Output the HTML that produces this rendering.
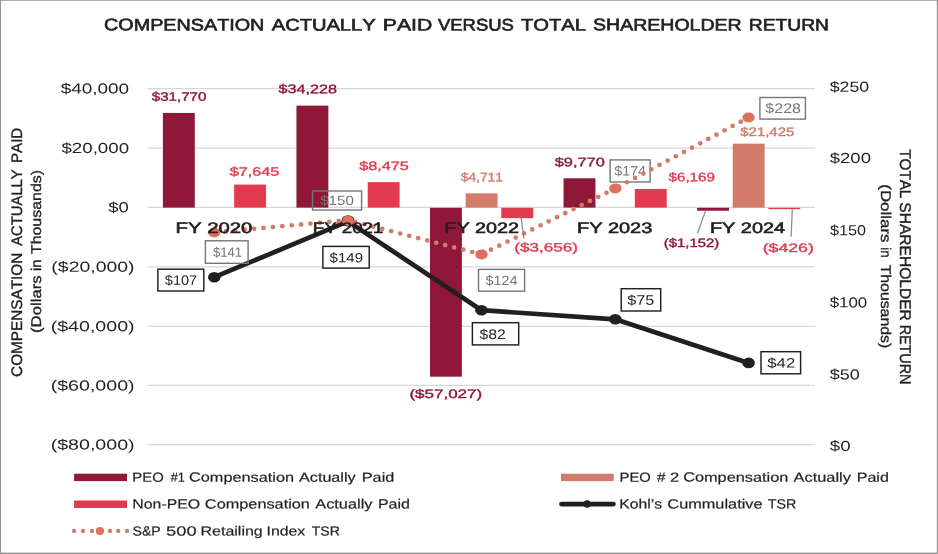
<!DOCTYPE html>
<html lang="en">
<head>
<meta charset="utf-8">
<title>Compensation Actually Paid Versus Total Shareholder Return</title>
<style>
html,body{margin:0;padding:0;background:#ffffff;}
body{width:938px;height:554px;overflow:hidden;font-family:"Liberation Sans",sans-serif;}
svg{display:block;will-change:transform;}
svg text{font-family:"Liberation Sans",sans-serif;font-kerning:none;text-rendering:geometricPrecision;}
</style>
</head>
<body>
<svg width="938" height="554" viewBox="0 0 938 554">
<rect x="0" y="0" width="938" height="554" fill="#ffffff"/>
<line x1="147.7" y1="88.60" x2="815.0" y2="88.60" stroke="#d8d8d8" stroke-width="1.25"/>
<line x1="147.7" y1="148.10" x2="815.0" y2="148.10" stroke="#d8d8d8" stroke-width="1.25"/>
<line x1="147.7" y1="207.30" x2="815.0" y2="207.30" stroke="#d8d8d8" stroke-width="1.25"/>
<line x1="147.7" y1="266.80" x2="815.0" y2="266.80" stroke="#d8d8d8" stroke-width="1.25"/>
<line x1="147.7" y1="326.30" x2="815.0" y2="326.30" stroke="#d8d8d8" stroke-width="1.25"/>
<line x1="147.7" y1="385.45" x2="815.0" y2="385.45" stroke="#d8d8d8" stroke-width="1.25"/>
<line x1="147.7" y1="444.60" x2="815.0" y2="444.60" stroke="#d8d8d8" stroke-width="1.25"/>
<rect x="162.90" y="112.94" width="31.9" height="94.66" fill="#8f1839"/>
<rect x="234.16" y="184.59" width="31.9" height="23.01" fill="#e23b50"/>
<rect x="296.45" y="105.64" width="31.9" height="101.96" fill="#8f1839"/>
<rect x="367.71" y="182.13" width="31.9" height="25.47" fill="#e23b50"/>
<rect x="430.00" y="207.80" width="31.9" height="168.87" fill="#8f1839"/>
<rect x="465.63" y="193.31" width="31.9" height="14.29" fill="#d27b6a"/>
<rect x="501.26" y="207.80" width="31.9" height="10.36" fill="#e23b50"/>
<rect x="563.55" y="178.28" width="31.9" height="29.32" fill="#8f1839"/>
<rect x="634.81" y="188.98" width="31.9" height="18.62" fill="#e23b50"/>
<rect x="697.10" y="207.80" width="31.9" height="2.92" fill="#8f1839"/>
<rect x="732.73" y="143.67" width="31.9" height="63.93" fill="#d27b6a"/>
<rect x="768.36" y="207.80" width="31.9" height="1.30" fill="#e23b50"/>
<polyline points="214.3,277.2 348.0,221.4 481.5,310.2 615.3,319.3 748.6,362.9" fill="none" stroke="#231f20" stroke-width="4.7" stroke-linejoin="round" stroke-linecap="round"/>
<ellipse cx="214.3" cy="277.2" rx="6.3" ry="5.3" fill="#231f20"/>
<ellipse cx="348.0" cy="220.9" rx="6.5" ry="5.7" fill="#231f20"/>
<ellipse cx="481.5" cy="310.2" rx="6.3" ry="5.3" fill="#231f20"/>
<ellipse cx="615.3" cy="319.3" rx="6.3" ry="5.3" fill="#231f20"/>
<ellipse cx="748.6" cy="362.9" rx="6.3" ry="5.3" fill="#231f20"/>
<rect x="205.40" y="240.80" width="42.70" height="22.50" fill="none" stroke="#767676" stroke-width="1.4"/>
<text x="212.96" y="256.70" font-size="13.37" font-weight="normal" fill="#767676" textLength="29.18" lengthAdjust="spacingAndGlyphs" transform="rotate(0.1 227.3 256.7)">$141</text>
<rect x="312.50" y="191.00" width="49.10" height="19.00" fill="none" stroke="#767676" stroke-width="1.4"/>
<text x="320.24" y="205.00" font-size="13.37" font-weight="normal" fill="#767676" textLength="33.55" lengthAdjust="spacingAndGlyphs" transform="rotate(0.1 336.8 205.0)">$150</text>
<rect x="478.50" y="269.40" width="46.10" height="21.80" fill="none" stroke="#767676" stroke-width="1.4"/>
<text x="485.55" y="285.00" font-size="13.37" font-weight="normal" fill="#767676" textLength="31.98" lengthAdjust="spacingAndGlyphs" transform="rotate(0.1 501.4 285.0)">$124</text>
<rect x="610.10" y="159.90" width="40.00" height="22.10" fill="none" stroke="#767676" stroke-width="1.4"/>
<text x="614.25" y="175.60" font-size="13.66" font-weight="normal" fill="#767676" textLength="31.77" lengthAdjust="spacingAndGlyphs" transform="rotate(0.1 630.0 175.6)">$174</text>
<rect x="759.90" y="97.50" width="45.50" height="21.60" fill="none" stroke="#767676" stroke-width="1.4"/>
<text x="765.33" y="112.90" font-size="13.81" font-weight="normal" fill="#767676" textLength="35.67" lengthAdjust="spacingAndGlyphs" transform="rotate(0.1 782.9 112.9)">$228</text>
<circle cx="338.70" cy="220.96" r="2.35" fill="#d37b69"/>
<circle cx="329.30" cy="221.83" r="2.35" fill="#d37b69"/>
<circle cx="319.90" cy="222.71" r="2.35" fill="#d37b69"/>
<circle cx="310.50" cy="223.58" r="2.35" fill="#d37b69"/>
<circle cx="301.10" cy="224.45" r="2.35" fill="#d37b69"/>
<circle cx="291.70" cy="225.32" r="2.35" fill="#d37b69"/>
<circle cx="282.30" cy="226.19" r="2.35" fill="#d37b69"/>
<circle cx="272.90" cy="227.07" r="2.35" fill="#d37b69"/>
<circle cx="263.50" cy="227.94" r="2.35" fill="#d37b69"/>
<circle cx="254.10" cy="228.81" r="2.35" fill="#d37b69"/>
<circle cx="244.70" cy="229.68" r="2.35" fill="#d37b69"/>
<circle cx="235.30" cy="230.55" r="2.35" fill="#d37b69"/>
<circle cx="225.90" cy="231.42" r="2.35" fill="#d37b69"/>
<circle cx="216.50" cy="232.30" r="2.35" fill="#d37b69"/>
<circle cx="472.20" cy="252.01" r="2.35" fill="#d37b69"/>
<circle cx="463.20" cy="249.70" r="2.35" fill="#d37b69"/>
<circle cx="454.20" cy="247.39" r="2.35" fill="#d37b69"/>
<circle cx="445.20" cy="245.07" r="2.35" fill="#d37b69"/>
<circle cx="436.20" cy="242.76" r="2.35" fill="#d37b69"/>
<circle cx="427.20" cy="240.45" r="2.35" fill="#d37b69"/>
<circle cx="418.20" cy="238.14" r="2.35" fill="#d37b69"/>
<circle cx="409.20" cy="235.82" r="2.35" fill="#d37b69"/>
<circle cx="400.20" cy="233.51" r="2.35" fill="#d37b69"/>
<circle cx="391.20" cy="231.20" r="2.35" fill="#d37b69"/>
<circle cx="382.20" cy="228.89" r="2.35" fill="#d37b69"/>
<circle cx="373.20" cy="226.57" r="2.35" fill="#d37b69"/>
<circle cx="364.20" cy="224.26" r="2.35" fill="#d37b69"/>
<circle cx="355.20" cy="221.95" r="2.35" fill="#d37b69"/>
<circle cx="491.00" cy="249.72" r="2.35" fill="#d37b69"/>
<circle cx="499.25" cy="245.66" r="2.35" fill="#d37b69"/>
<circle cx="507.50" cy="241.59" r="2.35" fill="#d37b69"/>
<circle cx="515.75" cy="237.53" r="2.35" fill="#d37b69"/>
<circle cx="524.00" cy="233.47" r="2.35" fill="#d37b69"/>
<circle cx="532.25" cy="229.40" r="2.35" fill="#d37b69"/>
<circle cx="540.50" cy="225.34" r="2.35" fill="#d37b69"/>
<circle cx="548.75" cy="221.28" r="2.35" fill="#d37b69"/>
<circle cx="557.00" cy="217.21" r="2.35" fill="#d37b69"/>
<circle cx="565.25" cy="213.15" r="2.35" fill="#d37b69"/>
<circle cx="573.50" cy="209.09" r="2.35" fill="#d37b69"/>
<circle cx="581.75" cy="205.02" r="2.35" fill="#d37b69"/>
<circle cx="590.00" cy="200.96" r="2.35" fill="#d37b69"/>
<circle cx="598.25" cy="196.90" r="2.35" fill="#d37b69"/>
<circle cx="606.50" cy="192.83" r="2.35" fill="#d37b69"/>
<circle cx="618.87" cy="186.60" r="2.35" fill="#d37b69"/>
<circle cx="627.00" cy="182.27" r="2.35" fill="#d37b69"/>
<circle cx="635.13" cy="177.94" r="2.35" fill="#d37b69"/>
<circle cx="643.26" cy="173.61" r="2.35" fill="#d37b69"/>
<circle cx="651.39" cy="169.28" r="2.35" fill="#d37b69"/>
<circle cx="659.52" cy="164.95" r="2.35" fill="#d37b69"/>
<circle cx="667.65" cy="160.62" r="2.35" fill="#d37b69"/>
<circle cx="675.78" cy="156.29" r="2.35" fill="#d37b69"/>
<circle cx="683.91" cy="151.96" r="2.35" fill="#d37b69"/>
<circle cx="692.04" cy="147.63" r="2.35" fill="#d37b69"/>
<circle cx="700.17" cy="143.30" r="2.35" fill="#d37b69"/>
<circle cx="708.30" cy="138.97" r="2.35" fill="#d37b69"/>
<circle cx="716.43" cy="134.63" r="2.35" fill="#d37b69"/>
<circle cx="724.56" cy="130.30" r="2.35" fill="#d37b69"/>
<circle cx="732.69" cy="125.97" r="2.35" fill="#d37b69"/>
<circle cx="740.82" cy="121.64" r="2.35" fill="#d37b69"/>
<ellipse cx="214.3" cy="232.5" rx="6.2" ry="5.0" fill="#de705e"/>
<ellipse cx="348.0" cy="220.9" rx="5.9" ry="5.1" fill="#de705e"/>
<ellipse cx="481.5" cy="254.4" rx="6.2" ry="5.0" fill="#de705e"/>
<ellipse cx="615.3" cy="188.5" rx="6.2" ry="5.0" fill="#de705e"/>
<ellipse cx="748.6" cy="117.5" rx="6.2" ry="5.0" fill="#de705e"/>
<line x1="521.2" y1="218.0" x2="523.9" y2="238.6" stroke="#8f8f8f" stroke-width="1.3"/>
<line x1="705.5" y1="210.9" x2="697.5" y2="233.2" stroke="#8f8f8f" stroke-width="1.3"/>
<line x1="792.3" y1="209.1" x2="791.1" y2="236.7" stroke="#8f8f8f" stroke-width="1.3"/>
<text x="175.63" y="233.00" font-size="15.12" font-weight="normal" fill="#231f20" textLength="76.76" lengthAdjust="spacingAndGlyphs" stroke="#231f20" stroke-width="0.6" transform="rotate(0.1 214.4 233.0)">FY 2020</text>
<text x="312.87" y="233.00" font-size="15.12" font-weight="normal" fill="#231f20" textLength="70.44" lengthAdjust="spacingAndGlyphs" stroke="#231f20" stroke-width="0.6" transform="rotate(0.1 348.4 233.0)">FY 2021</text>
<text x="444.38" y="233.00" font-size="15.12" font-weight="normal" fill="#231f20" textLength="74.51" lengthAdjust="spacingAndGlyphs" stroke="#231f20" stroke-width="0.6" transform="rotate(0.1 482.0 233.0)">FY 2022</text>
<text x="576.97" y="233.00" font-size="15.12" font-weight="normal" fill="#231f20" textLength="75.31" lengthAdjust="spacingAndGlyphs" stroke="#231f20" stroke-width="0.6" transform="rotate(0.1 615.0 233.0)">FY 2023</text>
<text x="709.97" y="233.00" font-size="15.12" font-weight="normal" fill="#231f20" textLength="75.11" lengthAdjust="spacingAndGlyphs" stroke="#231f20" stroke-width="0.6" transform="rotate(0.1 748.0 233.0)">FY 2024</text>
<rect x="157.90" y="269.20" width="45.90" height="21.80" fill="#fff" stroke="#231f20" stroke-width="1.45"/>
<text x="164.84" y="284.80" font-size="13.52" font-weight="normal" fill="#231f20" textLength="32.29" lengthAdjust="spacingAndGlyphs" transform="rotate(0.1 180.7 284.8)">$107</text>
<rect x="322.90" y="246.40" width="46.30" height="21.70" fill="#fff" stroke="#231f20" stroke-width="1.45"/>
<text x="329.64" y="262.20" font-size="13.37" font-weight="normal" fill="#231f20" textLength="33.37" lengthAdjust="spacingAndGlyphs" transform="rotate(0.1 346.1 262.2)">$149</text>
<rect x="472.40" y="322.70" width="46.30" height="22.20" fill="#fff" stroke="#231f20" stroke-width="1.45"/>
<text x="479.53" y="339.00" font-size="13.81" font-weight="normal" fill="#231f20" textLength="26.26" lengthAdjust="spacingAndGlyphs" transform="rotate(0.1 492.4 339.0)">$82</text>
<rect x="621.20" y="288.70" width="39.50" height="22.30" fill="#fff" stroke="#231f20" stroke-width="1.45"/>
<text x="627.23" y="304.80" font-size="13.81" font-weight="normal" fill="#231f20" textLength="27.06" lengthAdjust="spacingAndGlyphs" transform="rotate(0.1 640.5 304.8)">$75</text>
<rect x="761.00" y="351.70" width="39.60" height="22.10" fill="#fff" stroke="#231f20" stroke-width="1.45"/>
<text x="767.32" y="367.50" font-size="13.52" font-weight="normal" fill="#231f20" textLength="27.92" lengthAdjust="spacingAndGlyphs" transform="rotate(0.1 781.0 367.5)">$42</text>
<text x="151.83" y="100.76" font-size="12.24" font-weight="normal" fill="#8f1839" textLength="54.57" lengthAdjust="spacingAndGlyphs" stroke="#8f1839" stroke-width="0.38" transform="rotate(0.1 178.9 100.8)">$31,770</text>
<text x="229.72" y="175.76" font-size="12.24" font-weight="normal" fill="#e23b50" textLength="49.47" lengthAdjust="spacingAndGlyphs" stroke="#e23b50" stroke-width="0.38" transform="rotate(0.1 254.2 175.8)">$7,645</text>
<text x="278.52" y="93.16" font-size="12.38" font-weight="normal" fill="#8f1839" textLength="58.40" lengthAdjust="spacingAndGlyphs" stroke="#8f1839" stroke-width="0.38" transform="rotate(0.1 307.4 93.2)">$34,228</text>
<text x="359.22" y="170.06" font-size="12.24" font-weight="normal" fill="#e23b50" textLength="49.68" lengthAdjust="spacingAndGlyphs" stroke="#e23b50" stroke-width="0.38" transform="rotate(0.1 383.8 170.1)">$8,475</text>
<text x="460.84" y="181.26" font-size="12.24" font-weight="normal" fill="#d27b6a" textLength="41.94" lengthAdjust="spacingAndGlyphs" stroke="#d27b6a" stroke-width="0.38" transform="rotate(0.1 481.6 181.3)">$4,711</text>
<text x="514.23" y="251.56" font-size="12.24" font-weight="normal" fill="#e23b50" textLength="63.74" lengthAdjust="spacingAndGlyphs" stroke="#e23b50" stroke-width="0.38" transform="rotate(0.1 546.1 251.6)">($3,656)</text>
<text x="409.44" y="397.96" font-size="12.24" font-weight="normal" fill="#8f1839" textLength="72.73" lengthAdjust="spacingAndGlyphs" stroke="#8f1839" stroke-width="0.38" transform="rotate(0.1 445.8 398.0)">($57,027)</text>
<text x="554.81" y="166.26" font-size="12.24" font-weight="normal" fill="#8f1839" textLength="49.93" lengthAdjust="spacingAndGlyphs" stroke="#8f1839" stroke-width="0.38" transform="rotate(0.1 579.5 166.3)">$9,770</text>
<text x="668.53" y="181.26" font-size="12.24" font-weight="normal" fill="#e23b50" textLength="46.40" lengthAdjust="spacingAndGlyphs" stroke="#e23b50" stroke-width="0.38" transform="rotate(0.1 691.5 181.3)">$6,169</text>
<text x="740.33" y="135.96" font-size="12.24" font-weight="normal" fill="#d27b6a" textLength="53.91" lengthAdjust="spacingAndGlyphs" stroke="#d27b6a" stroke-width="0.38" transform="rotate(0.1 767.0 136.0)">$21,425</text>
<text x="663.87" y="246.96" font-size="12.24" font-weight="normal" fill="#8f1839" textLength="55.36" lengthAdjust="spacingAndGlyphs" stroke="#8f1839" stroke-width="0.38" transform="rotate(0.1 691.5 247.0)">($1,152)</text>
<text x="762.69" y="251.96" font-size="12.24" font-weight="normal" fill="#e23b50" textLength="51.11" lengthAdjust="spacingAndGlyphs" stroke="#e23b50" stroke-width="0.38" transform="rotate(0.1 788.2 252.0)">($426)</text>
<text x="60.70" y="93.60" font-size="14.54" font-weight="normal" fill="#231f20" textLength="68.44" lengthAdjust="spacingAndGlyphs" transform="rotate(0.1 94.7 93.6)">$40,000</text>
<text x="61.40" y="153.10" font-size="14.54" font-weight="normal" fill="#231f20" textLength="67.73" lengthAdjust="spacingAndGlyphs" transform="rotate(0.1 95.0 153.1)">$20,000</text>
<text x="108.30" y="212.30" font-size="14.54" font-weight="normal" fill="#231f20" textLength="20.52" lengthAdjust="spacingAndGlyphs" transform="rotate(0.1 118.3 212.3)">$0</text>
<text x="51.39" y="271.80" font-size="14.54" font-weight="normal" fill="#231f20" textLength="83.21" lengthAdjust="spacingAndGlyphs" transform="rotate(0.1 93.0 271.8)">($20,000)</text>
<text x="50.68" y="331.30" font-size="14.54" font-weight="normal" fill="#231f20" textLength="83.93" lengthAdjust="spacingAndGlyphs" transform="rotate(0.1 92.7 331.3)">($40,000)</text>
<text x="50.68" y="390.45" font-size="14.54" font-weight="normal" fill="#231f20" textLength="83.93" lengthAdjust="spacingAndGlyphs" transform="rotate(0.1 92.7 390.4)">($60,000)</text>
<text x="50.68" y="449.60" font-size="14.54" font-weight="normal" fill="#231f20" textLength="83.93" lengthAdjust="spacingAndGlyphs" transform="rotate(0.1 92.7 449.6)">($80,000)</text>
<text x="829.81" y="91.70" font-size="14.54" font-weight="normal" fill="#231f20" textLength="39.28" lengthAdjust="spacingAndGlyphs" transform="rotate(0.1 849.2 91.7)">$250</text>
<text x="829.80" y="163.00" font-size="14.54" font-weight="normal" fill="#231f20" textLength="41.12" lengthAdjust="spacingAndGlyphs" transform="rotate(0.1 850.1 163.0)">$200</text>
<text x="830.03" y="235.20" font-size="14.54" font-weight="normal" fill="#231f20" textLength="36.01" lengthAdjust="spacingAndGlyphs" transform="rotate(0.1 847.8 235.2)">$150</text>
<text x="829.72" y="307.40" font-size="14.54" font-weight="normal" fill="#231f20" textLength="37.54" lengthAdjust="spacingAndGlyphs" transform="rotate(0.1 848.2 307.4)">$100</text>
<text x="829.71" y="379.40" font-size="14.54" font-weight="normal" fill="#231f20" textLength="30.00" lengthAdjust="spacingAndGlyphs" transform="rotate(0.1 844.5 379.4)">$50</text>
<text x="829.80" y="450.90" font-size="14.54" font-weight="normal" fill="#231f20" textLength="20.73" lengthAdjust="spacingAndGlyphs" transform="rotate(0.1 839.9 450.9)">$0</text>
<text x="104.02" y="30.48" font-size="16.79" font-weight="normal" fill="#231f20" textLength="160.37" lengthAdjust="spacingAndGlyphs" stroke="#231f20" stroke-width="0.65" transform="rotate(0.1 183.9 30.5)">COMPENSATION</text>
<text x="271.79" y="30.48" font-size="16.79" font-weight="normal" fill="#231f20" textLength="103.83" lengthAdjust="spacingAndGlyphs" stroke="#231f20" stroke-width="0.65" transform="rotate(0.1 323.5 30.5)">ACTUALLY</text>
<text x="382.89" y="30.48" font-size="16.79" font-weight="normal" fill="#231f20" textLength="49.40" lengthAdjust="spacingAndGlyphs" stroke="#231f20" stroke-width="0.65" transform="rotate(0.1 408.0 30.5)">PAID</text>
<text x="438.04" y="30.48" font-size="16.79" font-weight="normal" fill="#231f20" textLength="75.78" lengthAdjust="spacingAndGlyphs" stroke="#231f20" stroke-width="0.65" transform="rotate(0.1 475.5 30.5)">VERSUS</text>
<text x="521.07" y="30.48" font-size="16.79" font-weight="normal" fill="#231f20" textLength="64.97" lengthAdjust="spacingAndGlyphs" stroke="#231f20" stroke-width="0.65" transform="rotate(0.1 553.5 30.5)">TOTAL</text>
<text x="593.04" y="30.48" font-size="16.79" font-weight="normal" fill="#231f20" textLength="148.64" lengthAdjust="spacingAndGlyphs" stroke="#231f20" stroke-width="0.65" transform="rotate(0.1 667.4 30.5)">SHAREHOLDER</text>
<text x="748.75" y="30.48" font-size="16.79" font-weight="normal" fill="#231f20" textLength="80.20" lengthAdjust="spacingAndGlyphs" stroke="#231f20" stroke-width="0.65" transform="rotate(0.1 788.9 30.5)">RETURN</text>
<text x="-0.58" y="-0.20" font-size="15.26" font-weight="normal" fill="#231f20" textLength="124.12" lengthAdjust="spacingAndGlyphs" stroke="#231f20" stroke-width="0.4" transform="translate(22.20,376.30) rotate(-90)">COMPENSATION</text>
<text x="0.17" y="-0.20" font-size="15.26" font-weight="normal" fill="#231f20" textLength="76.45" lengthAdjust="spacingAndGlyphs" stroke="#231f20" stroke-width="0.4" transform="translate(22.20,245.90) rotate(-90)">ACTUALLY</text>
<text x="-1.04" y="-0.20" font-size="15.26" font-weight="normal" fill="#231f20" textLength="35.16" lengthAdjust="spacingAndGlyphs" stroke="#231f20" stroke-width="0.4" transform="translate(22.20,161.90) rotate(-90)">PAID</text>
<text x="-0.86" y="-0.17" font-size="14.17" font-weight="normal" fill="#231f20" textLength="57.69" lengthAdjust="spacingAndGlyphs" stroke="#231f20" stroke-width="0.35" transform="translate(41.10,332.10) rotate(-90)">(Dollars</text>
<text x="-0.81" y="-0.17" font-size="14.17" font-weight="normal" fill="#231f20" textLength="11.50" lengthAdjust="spacingAndGlyphs" stroke="#231f20" stroke-width="0.35" transform="translate(41.10,270.30) rotate(-90)">in</text>
<text x="-0.18" y="-0.17" font-size="14.17" font-weight="normal" fill="#231f20" textLength="84.10" lengthAdjust="spacingAndGlyphs" stroke="#231f20" stroke-width="0.35" transform="translate(41.10,253.90) rotate(-90)">Thousands)</text>
<text x="-0.14" y="-0.20" font-size="15.55" font-weight="normal" fill="#231f20" textLength="49.05" lengthAdjust="spacingAndGlyphs" stroke="#231f20" stroke-width="0.4" transform="translate(899.60,149.40) rotate(90)">TOTAL</text>
<text x="-0.51" y="-0.20" font-size="15.55" font-weight="normal" fill="#231f20" textLength="118.53" lengthAdjust="spacingAndGlyphs" stroke="#231f20" stroke-width="0.4" transform="translate(899.60,202.80) rotate(90)">SHAREHOLDER</text>
<text x="-0.98" y="-0.20" font-size="15.55" font-weight="normal" fill="#231f20" textLength="59.85" lengthAdjust="spacingAndGlyphs" stroke="#231f20" stroke-width="0.4" transform="translate(899.60,325.60) rotate(90)">RETURN</text>
<text x="-0.87" y="-0.17" font-size="14.17" font-weight="normal" fill="#231f20" textLength="58.31" lengthAdjust="spacingAndGlyphs" stroke="#231f20" stroke-width="0.35" transform="translate(880.50,185.10) rotate(90)">(Dollars</text>
<text x="-0.72" y="-0.17" font-size="14.17" font-weight="normal" fill="#231f20" textLength="10.41" lengthAdjust="spacingAndGlyphs" stroke="#231f20" stroke-width="0.35" transform="translate(880.50,247.90) rotate(90)">in</text>
<text x="-0.18" y="-0.17" font-size="14.17" font-weight="normal" fill="#231f20" textLength="83.59" lengthAdjust="spacingAndGlyphs" stroke="#231f20" stroke-width="0.35" transform="translate(880.50,264.80) rotate(90)">Thousands)</text>
<rect x="74.1" y="473.7" width="52.9" height="7.4" fill="#8f1839"/>
<rect x="74.1" y="500.5" width="52.9" height="7.5" fill="#e23b50"/>
<rect x="561.0" y="473.7" width="52.7" height="7.4" fill="#d27b6a"/>
<line x1="561.4" y1="504.1" x2="613.5" y2="504.1" stroke="#231f20" stroke-width="4.6" stroke-linecap="round"/>
<ellipse cx="587.2" cy="504.0" rx="3.7" ry="3.8" fill="#231f20"/>
<circle cx="74.1" cy="531.0" r="2.15" fill="#d37b69"/>
<circle cx="83.0" cy="531.0" r="2.15" fill="#d37b69"/>
<circle cx="92.0" cy="531.0" r="2.15" fill="#d37b69"/>
<circle cx="109.9" cy="531.0" r="2.15" fill="#d37b69"/>
<circle cx="118.3" cy="531.0" r="2.15" fill="#d37b69"/>
<circle cx="127.0" cy="531.0" r="2.15" fill="#d37b69"/>
<ellipse cx="99.9" cy="531.0" rx="4.1" ry="3.9" fill="#de705e"/>
<text x="132.38" y="481.70" font-size="13.23" font-weight="normal" fill="#231f20" textLength="31.33" lengthAdjust="spacingAndGlyphs" stroke="#231f20" stroke-width="0.2" transform="rotate(0.1 148.3 481.7)">PEO</text>
<text x="170.64" y="481.70" font-size="13.23" font-weight="normal" fill="#231f20" textLength="14.18" lengthAdjust="spacingAndGlyphs" stroke="#231f20" stroke-width="0.2" transform="rotate(0.1 177.4 481.7)">#1</text>
<text x="189.07" y="481.70" font-size="13.23" font-weight="normal" fill="#231f20" textLength="104.98" lengthAdjust="spacingAndGlyphs" stroke="#231f20" stroke-width="0.2" transform="rotate(0.1 241.4 481.7)">Compensation</text>
<text x="299.07" y="481.70" font-size="13.23" font-weight="normal" fill="#231f20" textLength="56.56" lengthAdjust="spacingAndGlyphs" stroke="#231f20" stroke-width="0.2" transform="rotate(0.1 327.4 481.7)">Actually</text>
<text x="361.76" y="481.70" font-size="13.23" font-weight="normal" fill="#231f20" textLength="32.58" lengthAdjust="spacingAndGlyphs" stroke="#231f20" stroke-width="0.2" transform="rotate(0.1 378.2 481.7)">Paid</text>
<text x="132.30" y="508.50" font-size="13.37" font-weight="normal" fill="#231f20" textLength="67.86" lengthAdjust="spacingAndGlyphs" stroke="#231f20" stroke-width="0.2" transform="rotate(0.1 166.5 508.5)">Non-PEO</text>
<text x="204.87" y="508.50" font-size="13.37" font-weight="normal" fill="#231f20" textLength="105.09" lengthAdjust="spacingAndGlyphs" stroke="#231f20" stroke-width="0.2" transform="rotate(0.1 257.3 508.5)">Compensation</text>
<text x="315.27" y="508.50" font-size="13.37" font-weight="normal" fill="#231f20" textLength="57.16" lengthAdjust="spacingAndGlyphs" stroke="#231f20" stroke-width="0.2" transform="rotate(0.1 343.9 508.5)">Actually</text>
<text x="377.99" y="508.50" font-size="13.37" font-weight="normal" fill="#231f20" textLength="31.94" lengthAdjust="spacingAndGlyphs" stroke="#231f20" stroke-width="0.2" transform="rotate(0.1 394.1 508.5)">Paid</text>
<text x="132.56" y="535.50" font-size="13.23" font-weight="normal" fill="#231f20" textLength="28.18" lengthAdjust="spacingAndGlyphs" stroke="#231f20" stroke-width="0.2" transform="rotate(0.1 146.6 535.5)">S&amp;P</text>
<text x="166.06" y="535.50" font-size="13.23" font-weight="normal" fill="#231f20" textLength="30.65" lengthAdjust="spacingAndGlyphs" stroke="#231f20" stroke-width="0.2" transform="rotate(0.1 181.4 535.5)">500</text>
<text x="200.59" y="535.50" font-size="13.23" font-weight="normal" fill="#231f20" textLength="62.14" lengthAdjust="spacingAndGlyphs" stroke="#231f20" stroke-width="0.2" transform="rotate(0.1 231.8 535.5)">Retailing</text>
<text x="266.64" y="535.50" font-size="13.23" font-weight="normal" fill="#231f20" textLength="38.63" lengthAdjust="spacingAndGlyphs" stroke="#231f20" stroke-width="0.2" transform="rotate(0.1 286.6 535.5)">Index</text>
<text x="311.78" y="535.50" font-size="13.23" font-weight="normal" fill="#231f20" textLength="28.07" lengthAdjust="spacingAndGlyphs" stroke="#231f20" stroke-width="0.2" transform="rotate(0.1 325.6 535.5)">TSR</text>
<text x="619.59" y="481.70" font-size="13.23" font-weight="normal" fill="#231f20" textLength="31.22" lengthAdjust="spacingAndGlyphs" stroke="#231f20" stroke-width="0.2" transform="rotate(0.1 635.5 481.7)">PEO</text>
<text x="657.03" y="481.70" font-size="13.23" font-weight="normal" fill="#231f20" textLength="8.64" lengthAdjust="spacingAndGlyphs" stroke="#231f20" stroke-width="0.2" transform="rotate(0.1 661.4 481.7)">#</text>
<text x="670.07" y="481.70" font-size="13.23" font-weight="normal" fill="#231f20" textLength="9.16" lengthAdjust="spacingAndGlyphs" stroke="#231f20" stroke-width="0.2" transform="rotate(0.1 674.6 481.7)">2</text>
<text x="683.17" y="481.70" font-size="13.23" font-weight="normal" fill="#231f20" textLength="105.19" lengthAdjust="spacingAndGlyphs" stroke="#231f20" stroke-width="0.2" transform="rotate(0.1 735.6 481.7)">Compensation</text>
<text x="793.57" y="481.70" font-size="13.23" font-weight="normal" fill="#231f20" textLength="57.36" lengthAdjust="spacingAndGlyphs" stroke="#231f20" stroke-width="0.2" transform="rotate(0.1 822.2 481.7)">Actually</text>
<text x="856.68" y="481.70" font-size="13.23" font-weight="normal" fill="#231f20" textLength="32.15" lengthAdjust="spacingAndGlyphs" stroke="#231f20" stroke-width="0.2" transform="rotate(0.1 872.9 481.7)">Paid</text>
<text x="619.31" y="508.50" font-size="13.37" font-weight="normal" fill="#231f20" textLength="42.86" lengthAdjust="spacingAndGlyphs" stroke="#231f20" stroke-width="0.2" transform="rotate(0.1 641.1 508.5)">Kohl’s</text>
<text x="667.37" y="508.50" font-size="13.37" font-weight="normal" fill="#231f20" textLength="95.15" lengthAdjust="spacingAndGlyphs" stroke="#231f20" stroke-width="0.2" transform="rotate(0.1 715.0 508.5)">Cummulative</text>
<text x="767.88" y="508.50" font-size="13.37" font-weight="normal" fill="#231f20" textLength="28.58" lengthAdjust="spacingAndGlyphs" stroke="#231f20" stroke-width="0.2" transform="rotate(0.1 782.0 508.5)">TSR</text>
<rect x="0" y="0" width="938" height="0.8" fill="#969696"/>
<rect x="0" y="0" width="1.0" height="554" fill="#969696"/>
<rect x="0" y="552.6" width="938" height="1.4" fill="#969696"/>
<rect x="936.8" y="0" width="1.2" height="554" fill="#969696"/>
</svg>
</body>
</html>
